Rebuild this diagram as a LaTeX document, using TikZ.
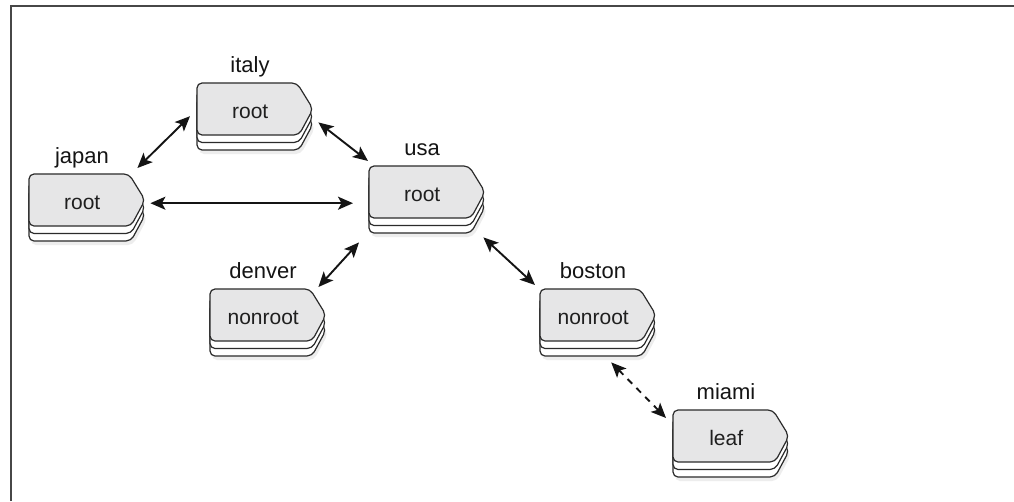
\documentclass[tikz,border=0pt]{standalone}
\usepackage{fontspec}
\setmainfont{Liberation Sans}
\usetikzlibrary{arrows.meta}
\definecolor{boxgray}{HTML}{E6E6E7}
\definecolor{linegray}{HTML}{2B2B2B}
\definecolor{framegray}{HTML}{474747}
\tikzset{
  shapeline/.style={draw=linegray, line width=1.2pt, line join=round},
  boxtext/.style={anchor=north west, inner sep=0pt, minimum width=106pt, minimum height=52pt,
     text height=18pt, text depth=0pt, font=\fontsize{21}{21}\selectfont, text=black!88},
  labeltext/.style={anchor=base, inner sep=0pt, font=\fontsize{22}{22}\selectfont, text=black!92},
  arr/.style={line width=1.9pt, draw=black!92, {Stealth[length=15pt,width=13pt,inset=3.5pt]}-{Stealth[length=15pt,width=13pt,inset=3.5pt]}},
  dasharr/.style={arr, dash pattern=on 6.5pt off 6pt},
}
\newcommand\stackpath{(0,26) -- (0,0) -- (100,0) -- (116,26) -- (102,52) -- (0,52) -- cycle}
\newcommand\stacknode[4]{%
  \coordinate (#1-tl) at (#2);
  \fill[black!7, rounded corners=5pt, shift={([xshift=2pt,yshift=-19pt]#1-tl)}] \stackpath;
  \filldraw[shapeline, fill=white, rounded corners=5pt, shift={([yshift=-15pt]#1-tl)}] \stackpath;
  \filldraw[shapeline, fill=white, rounded corners=5pt, shift={([yshift=-7.5pt]#1-tl)}] \stackpath;
  \filldraw[shapeline, fill=boxgray, rounded corners=5pt, shift={(#1-tl)}] \stackpath;
  \node[boxtext] (#1) at (#1-tl) {#4};
  \node[labeltext] (#1-label) at ([shift={(53,-11)}]#1-tl) {#3};
}
\begin{document}
\begin{tikzpicture}[x=1pt, y=-1pt]
  \useasboundingbox (0,0) rectangle (1014,501);
  \fill[white] (0,0) rectangle (1014,501);
  \coordinate (frameA) at (11,501);
  \coordinate (frameB) at (11,5.5);
  \coordinate (frameC) at (1014,5.5);
  \draw[framegray, line width=2pt] (frameA) -- (frameB) -- (frameC);

  \stacknode{japan}{29,174}{japan}{root}
  \stacknode{italy}{197,83}{italy}{root}
  \stacknode{usa}{369,166}{usa}{root}
  \stacknode{denver}{210,289}{denver}{nonroot}
  \stacknode{boston}{540,289}{boston}{nonroot}
  \stacknode{miami}{673,410}{miami}{leaf}

  \draw[arr] ([shift={(2,-6)}]japan.north east) -- ([shift={(-7,7)}]italy.west);
  \draw[arr] ([shift={(15,-13)}]italy.south east) -- ([shift={(-1,-5)}]usa.north west);
  \draw[arr] ([shift={(15,3)}]japan.east) -- ([shift={(-16,11)}]usa.west);
  \draw[arr] ([shift={(2,-2)}]denver.north east) -- ([shift={(-10,24)}]usa.south west);
  \draw[arr] ([shift={(8,19)}]usa.south east) -- ([shift={(-5,-4)}]boston.north west);
  \draw[dasharr] ([shift={(18,21)}]boston.south) -- ([shift={(-7,8)}]miami.north west);
\end{tikzpicture}
\end{document}
